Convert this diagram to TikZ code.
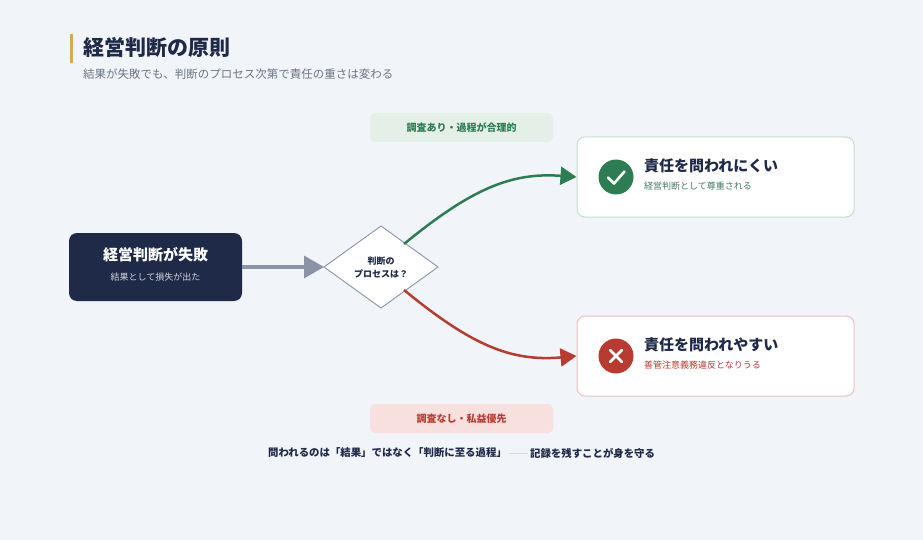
\documentclass[tikz,border=0pt]{standalone}
\usepackage{fontspec}
\setmainfont{Noto Sans CJK JP}
\usetikzlibrary{arrows.meta}
\definecolor{bg}{HTML}{F1F4F9}
\definecolor{navy}{HTML}{1F2A48}
\definecolor{gold}{HTML}{D4AA5A}
\definecolor{sub}{HTML}{6B7585}
\definecolor{grayline}{HTML}{8A94A6}
\definecolor{grn}{HTML}{2E7D52}
\definecolor{grnbg}{HTML}{E3EFE7}
\definecolor{grnbd}{HTML}{C4E0CC}
\definecolor{red}{HTML}{B83B32}
\definecolor{redbg}{HTML}{F8E0DE}
\definecolor{redbd}{HTML}{EBC0BC}
\begin{document}
\begin{tikzpicture}[x=1pt,y=-1pt,
  fs/.style={font=\fontsize{#1}{#1}\selectfont},
  tag/.style={rounded corners=5pt,minimum width=183pt,minimum height=29pt,inner sep=0pt},
  card/.style={rounded corners=8pt,fill=white,line width=1pt,minimum width=277pt,minimum height=80pt},
  lbl/.style={anchor=west,inner sep=0pt}]
\fill[bg] (0,0) rectangle (923,540);
\useasboundingbox (0,0) rectangle (923,540);
\draw[gold,line width=3pt] (71,34) -- (71,63);
\node[lbl,fs=21,navy] (title) at (83,48) {\bfseries 経営判断の原則};
\node[lbl,fs=11.5,sub] (subt) at (83,74) {結果が失敗でも、判断のプロセス次第で責任の重さは変わる};
% left box
\node[rounded corners=8pt,fill=navy,minimum width=173pt,minimum height=68pt] (fail) at (155.5,267) {};
\node[fs=15,white] (failt) at (155.5,255) {\bfseries 経営判断が失敗};
\node[fs=9,white!80!navy] (fails) at (155.5,277) {結果として損失が出た};
% diamond
\coordinate (dc) at (381,267);
\draw[grayline,fill=white,line width=0.9pt] (324,267) coordinate (dl) -- (381,226) -- (438,267) -- (381,308) -- cycle;
\node[fs=9,navy,align=center] (dq) at (dc) {\bfseries 判断の\\[4pt]\bfseries プロセスは？};
\draw[grayline,line width=3.5pt,-{Triangle[length=20pt,width=22pt]}] (fail.east) -- (dl);
% cards
\node[card,draw=grnbd] (ok) at (715.5,177) {};
\node[card,draw=redbd] (ng) at (715.5,356) {};
\coordinate (gs) at (404,244);
\coordinate (rs) at (404,290);
\draw[grn,line width=2.5pt,-{Triangle[length=16pt,width=18pt]}] (gs) .. controls (470,190) and (510,172) .. (ok.west);
\draw[red,line width=2.5pt,-{Triangle[length=16pt,width=18pt]}] (rs) .. controls (470,344) and (510,362) .. (ng.west);
\fill[grn] (616,177) circle (17.5);
\draw[white,line width=2.6pt,line cap=round,line join=round] (608,177.5) -- (614,183.5) -- (624.5,171.5);
\fill[red] (616,356) circle (17.5);
\draw[white,line width=2.6pt,line cap=round] (610,350) -- (622,362) (622,350) -- (610,362);
\node[lbl,fs=15,navy] (okt) at (644,166) {\bfseries 責任を問われにくい};
\node[lbl,fs=9,grn!60!sub] (oks) at (644,186) {経営判断として尊重される};
\node[lbl,fs=15,navy] (ngt) at (644,345) {\bfseries 責任を問われやすい};
\node[lbl,fs=9,red] (ngs) at (644,365) {善管注意義務違反となりうる};
% tags
\node[tag,fill=grnbg,fs=10,text=grn] (tg) at (461.5,127.5) {\bfseries 調査あり・過程が合理的};
\node[tag,fill=redbg,fs=10,text=red] (tr) at (461.5,418.5) {\bfseries 調査なし・私益優先};
% footer
\node[anchor=east,inner sep=0pt,fs=10.4,navy] (f1) at (507,453) {\bfseries 問われるのは「結果」ではなく「判断に至る過程」};
\node[lbl,fs=10.4,navy] (f2) at (530,453) {\bfseries 記録を残すことが身を守る};
\draw[black!15,line width=0.8pt] ([xshift=2pt]f1.east) -- ([xshift=-2pt]f2.west);
\end{tikzpicture}
\end{document}
